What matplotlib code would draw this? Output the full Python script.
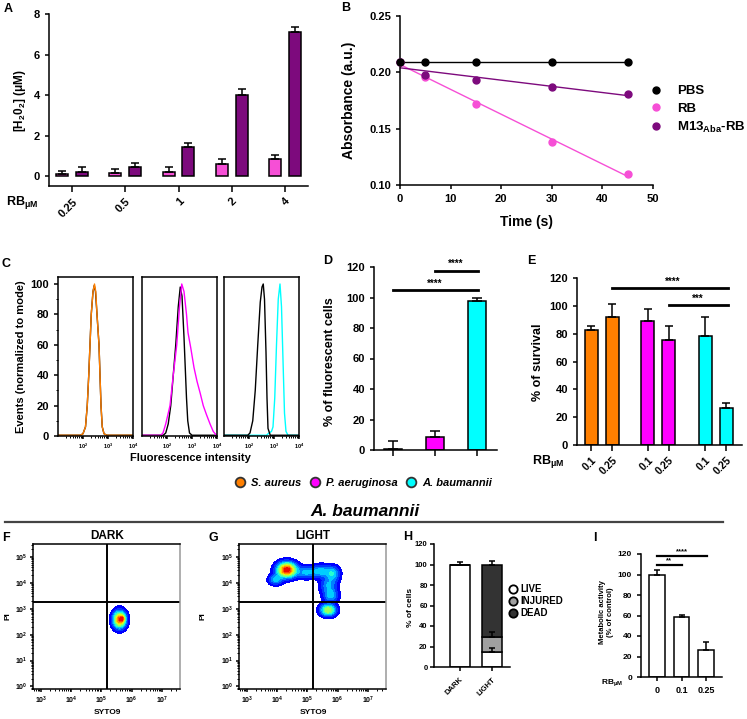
import numpy as np
import matplotlib
matplotlib.use('Agg')
import matplotlib.pyplot as plt
from matplotlib.lines import Line2D
from matplotlib.colors import ListedColormap
from matplotlib.ticker import FixedLocator, LogLocator, NullFormatter, MultipleLocator

plt.rcParams.update({
    'font.family': ['Liberation Sans', 'DejaVu Sans'],
    'font.weight': 'bold',
    'axes.labelweight': 'bold',
    'mathtext.fontset': 'custom',
    'mathtext.rm': 'Liberation Sans:bold',
    'mathtext.bf': 'Liberation Sans:bold',
    'mathtext.it': 'Liberation Sans:italic:bold',
    'mathtext.default': 'rm',
    'axes.linewidth': 1.1,
    'xtick.major.width': 1.1, 'ytick.major.width': 1.1,
    'xtick.major.size': 3, 'ytick.major.size': 3,
    'xtick.minor.width': 0.7, 'ytick.minor.width': 0.7,
    'xtick.minor.size': 1.6, 'ytick.minor.size': 1.6,
})

# ---------------- DATA ----------------
# Panel A
a_categories = ['0.25', '0.5', '1', '2', '4']
a_rb = [0.10, 0.13, 0.21, 0.58, 0.83]
a_rb_err = [0.16, 0.20, 0.25, 0.24, 0.21]
a_m13 = [0.18, 0.46, 1.42, 4.00, 7.13]
a_m13_err = [0.25, 0.20, 0.23, 0.28, 0.21]

# Panel B
b_time = [0, 5, 15, 30, 45]
b_pbs = [0.209, 0.209, 0.209, 0.209, 0.209]
b_rb = [0.209, 0.196, 0.172, 0.138, 0.110]
b_m13 = [0.209, 0.198, 0.193, 0.187, 0.181]
b_labels = ['PBS', 'RB', 'M13$_{\\mathregular{Aba}}$-RB']

# Panel C (log10 fluorescence, % of mode)
c1_ctrl_x = [1.0, 1.9, 2.0, 2.1, 2.17, 2.23, 2.28, 2.33, 2.4, 2.45, 2.5, 2.56, 2.64, 2.68, 2.72, 2.77, 2.84, 2.95, 4.0]
c1_ctrl_y = [0.5, 0.5, 1.5, 6, 20, 40, 60, 80, 95, 99, 95, 80, 60, 40, 20, 6, 1.5, 0.5, 0.5]
c1_sa_x = [1.0, 1.9, 2.0, 2.1, 2.17, 2.23, 2.28, 2.33, 2.4, 2.46, 2.51, 2.56, 2.64, 2.68, 2.72, 2.77, 2.84, 2.95, 4.0]
c1_sa_y = [0.5, 0.5, 1.5, 6, 20, 40, 60, 80, 95, 100, 95, 80, 60, 40, 20, 6, 1.5, 0.5, 0.5]
c2_ctrl_x = [1.0, 1.85, 1.95, 2.05, 2.15, 2.25, 2.35, 2.45, 2.53, 2.6, 2.68, 2.73, 2.78, 2.83, 2.9, 3.0, 4.0]
c2_ctrl_y = [0.5, 0.5, 2, 8, 20, 40, 60, 85, 98, 92, 65, 45, 25, 10, 2, 0.5, 0.5]
c2_pa_x = [1.0, 1.75, 1.84, 1.95, 2.12, 2.25, 2.39, 2.5, 2.59, 2.68, 2.78, 2.84, 2.95, 3.08, 3.2, 3.33, 3.45, 3.58, 3.72, 3.85, 3.95, 4.0]
c2_pa_y = [0.5, 0.5, 2, 8, 20, 40, 60, 85, 100, 95, 80, 68, 58, 45, 36, 28, 20, 14, 8, 3, 1, 0.5]
c3_ctrl_x = [1.0, 1.95, 2.04, 2.15, 2.25, 2.35, 2.45, 2.52, 2.57, 2.62, 2.68, 2.72, 2.76, 2.85, 4.0]
c3_ctrl_y = [0.5, 0.5, 2, 10, 30, 60, 88, 98, 100, 90, 55, 25, 5, 0.5, 0.5]
c3_ab_x = [1.0, 2.7, 2.8, 2.9, 2.96, 3.03, 3.1, 3.17, 3.24, 3.3, 3.36, 3.42, 3.48, 3.56, 4.0]
c3_ab_y = [0.5, 0.5, 2, 3, 6, 25, 60, 90, 100, 85, 50, 15, 3, 0.5, 0.5]
c_xticklabels = ['$10^2$', '$10^3$', '$10^4$']
species = ['S. aureus', 'P. aeruginosa', 'A. baumannii']

# Panel D
d_vals = [0.7, 8.7, 98.0]
d_err = [5.2, 3.8, 2.0]

# Panel E
e_labels = ['0.1', '0.25', '0.1', '0.25', '0.1', '0.25']
e_vals = [82.4, 92.0, 89.0, 75.7, 78.6, 26.4]
e_err = [3.4, 9.0, 9.0, 10.0, 13.5, 3.6]

# Panel F / G density components (log10 SYTO9, log10 PI, sx, sy, weight)
f_cx = [5.60, 5.70]
f_cy = [2.58, 2.62]
f_sx = [0.14, 0.06]
f_sy = [0.22, 0.09]
f_w = [1.0, 0.35]
g_cx = [4.32, 3.95, 4.95, 5.45, 5.85, 5.70, 5.78, 5.69]
g_cy = [4.50, 4.12, 4.40, 4.45, 4.35, 3.90, 3.50, 2.95]
g_sx = [0.21, 0.15, 0.20, 0.22, 0.15, 0.18, 0.16, 0.17]
g_sy = [0.19, 0.13, 0.15, 0.16, 0.19, 0.21, 0.16, 0.15]
g_w = [1.00, 0.30, 0.28, 0.32, 0.30, 0.28, 0.30, 0.60]
gate_x = 10 ** 5.19
gate_y = 10 ** 3.26

# Panel H
h_groups = ['DARK', 'LIGHT']
h_live = [100.0, 15.0]
h_live_err = [2.4, 3.5]
h_injured = [0.0, 14.3]
h_injured_err = [0.0, 5.0]
h_dead = [0.0, 70.7]
h_dead_err = [0.0, 3.5]

# Panel I
i_labels = ['0', '0.1', '0.25']
i_vals = [100.0, 58.8, 26.3]
i_err = [4.0, 1.7, 8.1]

PINK = '#F64FD6'
PURPLE = '#7D0A7D'
ORANGE = '#FF7F00'
MAGENTA = '#FF00FF'
CYAN = '#00FFFF'

# ---------------- FIGURE ----------------
W, H = 747, 719
fig = plt.figure(figsize=(W / 100, H / 100), dpi=100)


def axpx(l, t, r, b):
    return fig.add_axes([l / W, 1 - b / H, (r - l) / W, (b - t) / H])


def ftext(x, y, s, **kw):
    return fig.text(x / W, 1 - y / H, s, **kw)


def gp_style(ax, fs):
    for s in ['top', 'right']:
        ax.spines[s].set_visible(False)
    ax.tick_params(labelsize=fs, direction='out')


ekw = dict(elinewidth=1.1, capthick=1.1, ecolor='black')
RBUM = 'RB$_{\\mathregular{\u03bcM}}$'

# ---- Panel A
axA = axpx(49, 14, 308, 186)
xa = np.arange(len(a_categories))
axA.bar(xa - 0.185, a_rb, 0.23, color=PINK, edgecolor='black', linewidth=1.1,
        yerr=[np.zeros(len(a_rb)), a_rb_err], capsize=3, error_kw=ekw)
axA.bar(xa + 0.185, a_m13, 0.23, color=PURPLE, edgecolor='black', linewidth=1.1,
        yerr=[np.zeros(len(a_m13)), a_m13_err], capsize=3, error_kw=ekw)
axA.set_xlim(-0.43, 4.43)
axA.set_ylim(-0.49, 8.0)
axA.set_yticks([0, 2, 4, 6, 8])
axA.set_xticks(xa)
axA.set_xticklabels(a_categories, rotation=45, ha='right', rotation_mode='anchor')
gp_style(axA, 8)
axA.tick_params(axis='x', length=4)
ftext(20, 101, '[H$_2$0$_2$] (\u03bcM)', rotation=90, ha='center', va='center', fontsize=8.5)
ftext(22, 203, RBUM, ha='center', va='center', fontsize=9)

# ---- Panel B
axB = axpx(400, 16, 653, 185)
tfit = np.array([0, 45])
for yv, col in [(b_rb, PINK), (b_m13, PURPLE), (b_pbs, 'black')]:
    k, c0 = np.polyfit(b_time, yv, 1)
    axB.plot(tfit, k * tfit + c0, color=col, lw=1.0, zorder=2)
for yv, col in [(b_rb, PINK), (b_m13, PURPLE), (b_pbs, 'black')]:
    axB.plot(b_time, yv, 'o', color=col, ms=5, zorder=3, clip_on=False)
axB.set_xlim(0, 50)
axB.set_ylim(0.10, 0.25)
axB.set_xticks([0, 10, 20, 30, 40, 50])
axB.set_yticks([0.10, 0.15, 0.20, 0.25])
axB.set_yticklabels(['0.10', '0.15', '0.20', '0.25'])
gp_style(axB, 8)
ftext(349, 100, 'Absorbance (a.u.)', rotation=90, ha='center', va='center', fontsize=10)
ftext(527, 222, 'Time (s)', ha='center', va='center', fontsize=10)
b_handles = [Line2D([], [], ls='none', marker='o', ms=5, color=c) for c in ['black', PINK, PURPLE]]
fig.legend(b_handles, b_labels, loc='center left', bbox_to_anchor=(644 / W, 1 - 110 / H),
           frameon=False, prop=dict(size=9.5, weight='bold'), handlelength=1.0,
           handletextpad=1.1, labelspacing=0.4, borderpad=0.4, borderaxespad=0)

# ---- Panel C
c_sets = [
    [(c1_ctrl_x, c1_ctrl_y, 'black'), (c1_sa_x, c1_sa_y, ORANGE)],
    [(c2_ctrl_x, c2_ctrl_y, 'black'), (c2_pa_x, c2_pa_y, MAGENTA)],
    [(c3_ab_x, c3_ab_y, CYAN), (c3_ctrl_x, c3_ctrl_y, 'black')],
]
for i, left in enumerate([58, 142, 224]):
    ax = axpx(left, 277, left + 75, 436)
    for xs, ys, col in c_sets[i]:
        ax.plot(10 ** np.array(xs), ys, color=col, lw=1.0)
    ax.set_xscale('log')
    ax.set_xlim(10, 1e4)
    ax.set_ylim(0, 104.6)
    ax.xaxis.set_major_locator(FixedLocator([1e2, 1e3, 1e4]))
    ax.set_xticklabels(c_xticklabels)
    ax.xaxis.set_minor_locator(LogLocator(base=10, subs=np.arange(2, 10)))
    ax.xaxis.set_minor_formatter(NullFormatter())
    ax.tick_params(axis='x', which='major', labelsize=4, length=2.5, pad=1.5)
    ax.tick_params(axis='x', which='minor', length=1.3)
    if i == 0:
        ax.set_yticks([0, 20, 40, 60, 80, 100])
        ax.yaxis.set_minor_locator(MultipleLocator(10))
        ax.tick_params(axis='y', labelsize=8)
    else:
        ax.set_yticks([])
ftext(21, 357, 'Events (normalized to mode)', rotation=90, ha='center', va='center', fontsize=8)
ftext(190, 458, 'Fluorescence intensity', ha='center', va='center', fontsize=8)

# ---- Panel D
axD = axpx(374, 267, 497, 450)
xd = np.arange(3)
axD.bar(xd, d_vals, 0.43, color=['white', MAGENTA, CYAN], edgecolor='black', linewidth=1.1,
        yerr=[np.zeros(3), d_err], capsize=3.5, error_kw=ekw)
axD.set_xlim(-0.45, 2.48)
axD.set_ylim(0, 120)
axD.set_yticks([0, 20, 40, 60, 80, 100, 120])
axD.set_xticks(xd)
axD.set_xticklabels([])
gp_style(axD, 8)
axD.tick_params(axis='x', length=4)
axD.plot([1, 2.02], [117.4, 117.4], color='black', lw=2, clip_on=False)
axD.text(1.5, 122, '****', ha='center', va='center', fontsize=7)
axD.plot([0, 2.02], [104.9, 104.9], color='black', lw=2, clip_on=False)
axD.text(1.0, 109, '****', ha='center', va='center', fontsize=7)
ftext(330, 362, '% of fluorescent cells', rotation=90, ha='center', va='center', fontsize=9)

# ---- Panel E
axE = axpx(577, 278, 742, 445)
xe = np.array([0, 1, 2.7, 3.7, 5.45, 6.45])
axE.bar(xe, e_vals, 0.62, color=[ORANGE, ORANGE, MAGENTA, MAGENTA, CYAN, CYAN],
        edgecolor='black', linewidth=1.1, yerr=[np.zeros(6), e_err], capsize=3, error_kw=ekw)
axE.set_xlim(-0.67, 7.19)
axE.set_ylim(0, 120)
axE.set_yticks([0, 20, 40, 60, 80, 100, 120])
axE.set_xticks(xe)
axE.set_xticklabels(e_labels, rotation=45, ha='right', rotation_mode='anchor')
gp_style(axE, 8)
axE.tick_params(axis='x', length=4, labelsize=7.5)
axE.plot([1, 6.5], [113, 113], color='black', lw=2, clip_on=False)
axE.text(3.9, 117.5, '****', ha='center', va='center', fontsize=7)
axE.plot([3.7, 6.5], [100.5, 100.5], color='black', lw=2, clip_on=False)
axE.text(5.1, 105, '***', ha='center', va='center', fontsize=7)
ftext(538, 362, '% of survival', rotation=90, ha='center', va='center', fontsize=9)
ftext(548, 462, RBUM, ha='center', va='center', fontsize=9)

# ---- legend row
sp_handles = [Line2D([], [], ls='none', marker='o', ms=7, mfc=c, mec='#333333', mew=1.3)
              for c in [ORANGE, MAGENTA, CYAN]]
fig.legend(sp_handles, species, loc='center left', bbox_to_anchor=(231 / W, 1 - 483 / H),
           ncol=3, frameon=False, prop=dict(size=8, weight='bold', style='italic'),
           handlelength=0.8, handletextpad=0.6, columnspacing=0.8, borderpad=0.4, borderaxespad=0)

# ---- title and divider
ftext(365, 511, 'A. baumannii', ha='center', va='center', fontsize=12.5,
      fontweight='bold', style='italic')
fig.add_artist(Line2D([5 / W, 723 / W], [1 - 522 / H, 1 - 522 / H], color='#444444', lw=1.6))

# ---- Panels F, G
cols = plt.cm.jet(np.linspace(0.11, 0.9, 12))
dens_cmap = ListedColormap(cols)
gxs = np.linspace(2.74, 7.6, 400)
gys = np.linspace(-0.1, 5.5, 400)


def density(cx, cy, sx, sy, w):
    X, Y = np.meshgrid(gxs, gys)
    Z = np.zeros_like(X)
    for a, b, c, d, e in zip(cx, cy, sx, sy, w):
        Z += e * np.exp(-((X - a) ** 2 / (2 * c ** 2) + (Y - b) ** 2 / (2 * d ** 2)))
    return 10 ** X, 10 ** Y, Z / Z.max()


for (left, comps, title, px_pi, px_title) in [
        (33, (f_cx, f_cy, f_sx, f_sy, f_w), 'DARK', 8, 107),
        (239, (g_cx, g_cy, g_sx, g_sy, g_w), 'LIGHT', 203, 313)]:
    ax = axpx(left, 544, left + 147, 689)
    X, Y, Z = density(*comps)
    ax.contourf(X, Y, Z, levels=np.linspace(0.045, 1.0001, 13), cmap=dens_cmap)
    ax.set_xscale('log')
    ax.set_yscale('log')
    ax.set_xlim(10 ** 2.74, 10 ** 7.6)
    ax.set_ylim(10 ** -0.1, 10 ** 5.5)
    ax.axvline(gate_x, color='black', lw=1.4)
    ax.axhline(gate_y, color='black', lw=1.4)
    ax.xaxis.set_major_locator(FixedLocator([1e3, 1e4, 1e5, 1e6, 1e7]))
    ax.yaxis.set_major_locator(FixedLocator([1e0, 1e1, 1e2, 1e3, 1e4, 1e5]))
    ax.xaxis.set_minor_locator(LogLocator(base=10, subs=np.arange(2, 10)))
    ax.yaxis.set_minor_locator(LogLocator(base=10, subs=np.arange(2, 10)))
    ax.xaxis.set_minor_formatter(NullFormatter())
    ax.yaxis.set_minor_formatter(NullFormatter())
    ax.tick_params(which='major', labelsize=5, length=2.5, pad=1.5)
    ax.tick_params(which='minor', length=1.3)
    ax.spines['right'].set_color('#999999')
    ftext(px_title, 536, title, ha='center', va='center', fontsize=8.5)
    ftext(px_pi, 616, 'PI', rotation=90, ha='center', va='center', fontsize=6)
    ftext(px_title, 713, 'SYTO9', ha='center', va='center', fontsize=6)

# ---- Panel H
axH = axpx(434, 544, 510, 667)
xh = np.arange(2)
axH.bar(xh, h_live, 0.63, color='white', edgecolor='black', linewidth=1.1)
axH.bar(xh, h_injured, 0.63, bottom=h_live, color='#A0A0A0', edgecolor='black', linewidth=1.1)
bot = np.array(h_live) + np.array(h_injured)
axH.bar(xh, h_dead, 0.63, bottom=bot, color='#333333', edgecolor='black', linewidth=1.1)
axH.errorbar(xh, h_live, yerr=[np.zeros(2), h_live_err], fmt='none', capsize=2.5, **ekw)
axH.errorbar([1], [bot[1]], yerr=[[0], [h_injured_err[1]]], fmt='none', capsize=2.5, **ekw)
axH.errorbar([1], [bot[1] + h_dead[1]], yerr=[[0], [h_dead_err[1]]], fmt='none', capsize=2.5, **ekw)
axH.set_xlim(-0.81, 1.56)
axH.set_ylim(0, 120)
axH.set_yticks([0, 20, 40, 60, 80, 100, 120])
axH.set_xticks(xh)
axH.set_xticklabels(h_groups, rotation=45, ha='right', rotation_mode='anchor')
gp_style(axH, 5.5)
axH.tick_params(axis='y', pad=1.5)
ftext(410, 607, '% of cells', rotation=90, ha='center', va='center', fontsize=6)
h_handles = [Line2D([], [], ls='none', marker='o', ms=6, mfc=c, mec='black', mew=1.3)
             for c in ['white', '#A0A0A0', '#333333']]
fig.legend(h_handles, ['LIVE', 'INJURED', 'DEAD'], loc='center left',
           bbox_to_anchor=(505 / W, 1 - 601 / H), frameon=False,
           prop=dict(size=7, weight='bold'), handlelength=0.8, handletextpad=0.35,
           labelspacing=0.2, borderpad=0.4, borderaxespad=0)

# ---- Panel I
axI = axpx(641, 554, 722, 677)
xi = np.arange(3)
axI.bar(xi, i_vals, 0.63, color='white', edgecolor='black', linewidth=1.1,
        yerr=[np.zeros(3), i_err], capsize=2.5, error_kw=ekw)
axI.set_xlim(-0.65, 2.65)
axI.set_ylim(0, 120)
axI.set_yticks([0, 20, 40, 60, 80, 100, 120])
axI.set_xticks(xi)
axI.set_xticklabels(i_labels)
gp_style(axI, 6)
axI.tick_params(axis='x', labelsize=6.5)
axI.plot([0, 2.04], [118, 118], color='black', lw=1.6, clip_on=False)
axI.text(1.02, 122, '****', ha='center', va='center', fontsize=5.5)
axI.plot([0, 1.02], [109, 109], color='black', lw=1.6, clip_on=False)
axI.text(0.51, 113, '**', ha='center', va='center', fontsize=5.5)
ftext(606, 612, 'Metabolic activity\n(% of control)', rotation=90, ha='center', va='center',
      fontsize=5.5, linespacing=1.2)
ftext(612, 683, RBUM, ha='center', va='center', fontsize=6)

# ---- panel letters
for s, x, y in [('A', 4, 3), ('B', 341, 2), ('C', 2, 258), ('D', 323, 255), ('E', 527, 255),
                ('F', 2, 532), ('G', 208, 532), ('H', 403, 531), ('I', 593, 532)]:
    ftext(x, y, s, ha='left', va='top', fontsize=9, fontweight='bold')

fig.savefig('out.png', dpi=100)
